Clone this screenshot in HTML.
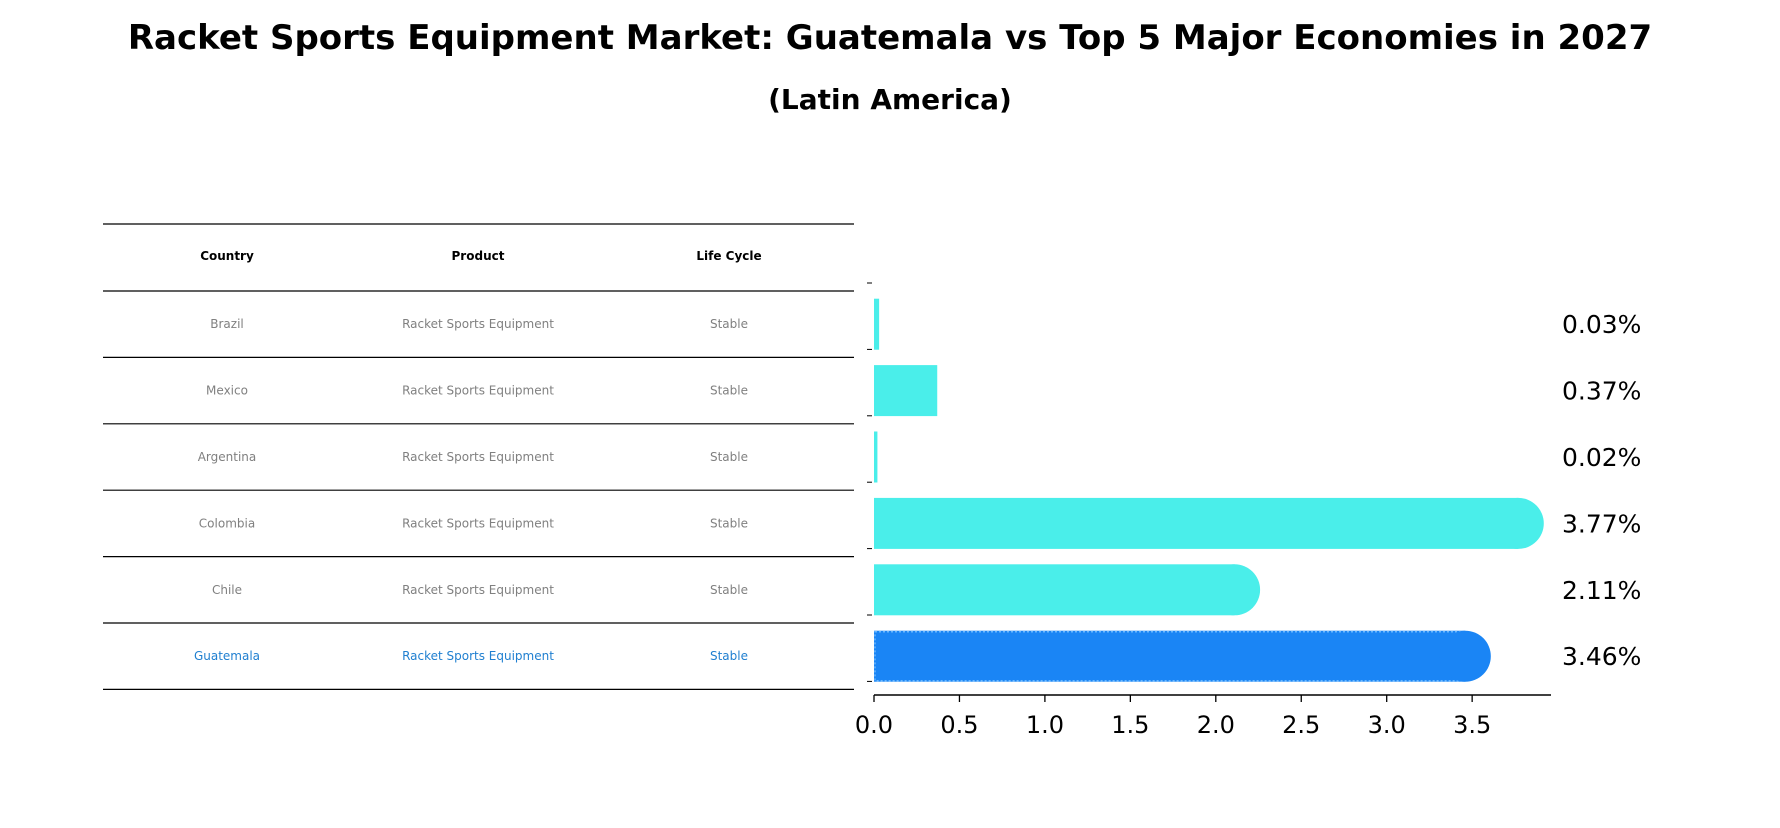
<!DOCTYPE html>
<html><head><meta charset="utf-8"><style>
body{margin:0;background:#fff;}
svg text{font-family:"DejaVu Sans","Liberation Sans",sans-serif;}
</style></head><body>
<svg width="1780" height="823" viewBox="0 0 1780 823" xmlns="http://www.w3.org/2000/svg">
<text x="890" y="49" text-anchor="middle" font-size="34" font-weight="bold">Racket Sports Equipment Market: Guatemala vs Top 5 Major Economies in 2027</text>
<text x="890" y="109" text-anchor="middle" font-size="28" font-weight="bold">(Latin America)</text>
<g id="table"></g>
<g id="bars"></g>
</svg>
<script>
const countries=["Brazil","Mexico","Argentina","Colombia","Chile","Guatemala"];
const values=[0.03,0.37,0.02,3.77,2.11,3.46];
const valueLabels=["0.03%","0.37%","0.02%","3.77%","2.11%","3.46%"];
const ticks=[0,0.5,1,1.5,2,2.5,3,3.5];
const tickLabels=["0.0","0.5","1.0","1.5","2.0","2.5","3.0","3.5"];
const NS="http://www.w3.org/2000/svg";
function mk(p,t,a){const e=document.createElementNS(NS,t);for(const k in a)e.setAttribute(k,a[k]);p.appendChild(e);return e;}
const x=v=>874+v*170.9;
const rowTop=291,rowH=66.4,barH=51;
const yc=i=>rowTop+rowH*i+rowH/2;
const tb=document.getElementById('table');
const colX=[227,478,729];
// header
const hdr=["Country","Product","Life Cycle"];
hdr.forEach((h,j)=>{const t=mk(tb,'text',{x:colX[j],y:260,'text-anchor':'middle','font-size':12,'font-weight':'bold'});t.textContent=h;

});
for(let k=0;k<=countries.length+1;k++){const y=k==0?224:rowTop+rowH*(k-1);const l=mk(tb,'line',{x1:103,x2:854,y1:y,y2:y,stroke:'#000','stroke-width':1.2});

}
countries.forEach((c,i)=>{const col=c==="Guatemala"?"#1f7fd0":"#808080";
[c,"Racket Sports Equipment","Stable"].forEach((s,j)=>{const t=mk(tb,'text',{x:colX[j],y:yc(i)+4,'text-anchor':'middle','font-size':12,fill:col});t.textContent=s;

});});
const bg=document.getElementById('bars');
values.forEach((v,i)=>{const g=c=>c;const guat=countries[i]==="Guatemala";const fill=guat?"#1a85f5":"#4aeeea";
const y0=yc(i)-barH/2;
const r=mk(bg,'rect',{x:874,y:y0,width:x(v)-874,height:barH,fill:fill});


if(guat){mk(bg,'rect',{x:875,y:y0+1,width:x(v)-876,height:barH-2,fill:'none',stroke:'#6ab8ff','stroke-width':1.5,'stroke-dasharray':'2 2'});}
if(v>1){const c=mk(bg,'circle',{cx:x(v),cy:yc(i),r:barH/2,fill:fill});

}
const t=mk(bg,'text',{x:1562,y:yc(i)+9,'font-size':25});t.textContent=valueLabels[i];


});
for(let k=0;k<=countries.length;k++){mk(bg,'line',{x1:867,x2:872,y1:rowTop+rowH*k-8,y2:rowTop+rowH*k-8,stroke:'#000','stroke-width':1});}
const ax=mk(bg,'line',{x1:874,x2:1551,y1:695,y2:695,stroke:'#000','stroke-width':1.6});


ticks.forEach((v,i)=>{mk(bg,'line',{x1:x(v),x2:x(v),y1:695,y2:702,stroke:'#000','stroke-width':1.3});
const t=mk(bg,'text',{x:x(v),y:733,'text-anchor':'middle','font-size':24});t.textContent=tickLabels[i];

});
</script>
</body></html>
